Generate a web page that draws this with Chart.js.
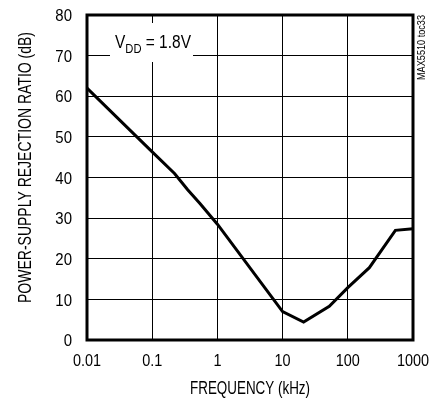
<!DOCTYPE html>
<html><head><meta charset="utf-8">
<script src="https://cdn.jsdelivr.net/npm/chart.js@4/dist/chart.umd.min.js"></script>
<style>html,body{margin:0;padding:0;background:#fff}#wrap{width:439px;height:401px;position:relative}</style>
</head><body><div id="wrap"><canvas id="c" width="439" height="401"></canvas></div>
<script>
const freqKHz = [0.01, 0.1, 0.22, 0.35, 0.54, 1, 10, 21, 52, 100, 214, 537, 1000];
const psrrDB  = [62, 46.3, 41, 37, 33.6, 28.5, 7, 4.4, 8.3, 12.9, 17.8, 27, 27.4];
const xTicks = [0.01, 0.1, 1, 10, 100, 1000];
const xTickLabels = ['0.01', '0.1', '1', '10', '100', '1000'];
const yTicks = [0, 10, 20, 30, 40, 50, 60, 70, 80];
const xTitle = 'FREQUENCY (kHz)';
const yTitle = 'POWER-SUPPLY REJECTION RATIO (dB)';
const noteText = 'MAX5510 toc33';

const FONT = "'Liberation Sans',Arial,sans-serif";

// draw horizontally condensed text (mimics a narrow Helvetica)
function cText(ctx, text, x, y, size, sx, align, rot) {
  ctx.save();
  ctx.translate(x, y);
  if (rot) ctx.rotate(rot);
  ctx.scale(sx, 1);
  ctx.font = size + 'px ' + FONT;
  ctx.textAlign = align || 'center';
  ctx.textBaseline = 'middle';
  ctx.fillStyle = '#000';
  ctx.fillText(text, 0, 0);
  ctx.restore();
}
function fitScale(ctx, text, size, target) {
  ctx.save();
  ctx.font = size + 'px ' + FONT;
  const w = ctx.measureText(text).width;
  ctx.restore();
  return target / w;
}

const decor = {
  id: 'decor',
  beforeDatasetsDraw(chart) {
    const ctx = chart.ctx;
    ctx.save();
    ctx.fillStyle = '#fff';
    ctx.fillRect(110, 23, 83, 39);
    ctx.restore();
    // V_DD = 1.8V label, condensed
    const sx = 0.86;
    ctx.save();
    ctx.translate(115, 48);
    ctx.scale(sx, 1);
    ctx.fillStyle = '#000';
    ctx.textAlign = 'left';
    ctx.textBaseline = 'alphabetic';
    let px = 0;
    ctx.font = '18px ' + FONT;
    ctx.fillText('V', px, 0);
    px += ctx.measureText('V').width;
    ctx.font = '13px ' + FONT;
    ctx.fillText('DD', px, 5);
    px += ctx.measureText('DD').width;
    ctx.font = '18px ' + FONT;
    ctx.fillText(' = 1.8V', px, 0);
    ctx.restore();
  },
  afterDatasetsDraw(chart) {
    const ctx = chart.ctx, a = chart.chartArea;
    ctx.save();
    ctx.strokeStyle = '#000';
    ctx.lineWidth = 3;
    ctx.strokeRect(a.left, a.top, a.right - a.left, a.bottom - a.top);
    ctx.restore();
  },
  afterDraw(chart) {
    const ctx = chart.ctx, a = chart.chartArea, xs = chart.scales.x, ys = chart.scales.y;
    // tick labels
    xTicks.forEach((v, i) => cText(ctx, xTickLabels[i], xs.getPixelForValue(v), 361, 17, 0.85, 'center'));
    yTicks.forEach(v => cText(ctx, String(v), 72, ys.getPixelForValue(v) + 1.5, 17, 0.88, 'right'));
    // titles
    cText(ctx, xTitle, (a.left + a.right) / 2, 388.5, 19, fitScale(ctx, xTitle, 19, 120), 'center');
    cText(ctx, yTitle, 25.5, 167.5, 19, fitScale(ctx, yTitle, 19, 271), 'center', -Math.PI / 2);
    cText(ctx, noteText, 422, 47.5, 10, fitScale(ctx, noteText, 10, 65), 'center', -Math.PI / 2);
  }
};

new Chart(document.getElementById('c'), {
  type: 'line',
  data: {
    datasets: [{
      data: freqKHz.map((f, i) => ({ x: f, y: psrrDB[i] })),
      borderColor: '#000',
      borderWidth: 3,
      pointRadius: 0,
      tension: 0,
      fill: false
    }]
  },
  options: {
    responsive: false,
    animation: false,
    devicePixelRatio: 1,
    layout: { padding: { top: 15, right: 26, left: 0, bottom: 0 } },
    plugins: { legend: { display: false }, tooltip: { enabled: false } },
    scales: {
      x: {
        type: 'logarithmic',
        min: 0.01, max: 1000,
        afterFit(s) { s.height = 61; },
        afterBuildTicks(s) { s.ticks = xTicks.map(v => ({ value: v })); },
        ticks: { display: false },
        grid: { color: '#000', lineWidth: 1, drawTicks: false },
        border: { display: false }
      },
      y: {
        min: 0, max: 80,
        afterFit(s) { s.width = 87; },
        afterBuildTicks(s) { s.ticks = yTicks.map(v => ({ value: v })); },
        ticks: { display: false },
        grid: { color: '#000', lineWidth: 1, drawTicks: false },
        border: { display: false }
      }
    }
  },
  plugins: [decor]
});
</script>
</body></html>
